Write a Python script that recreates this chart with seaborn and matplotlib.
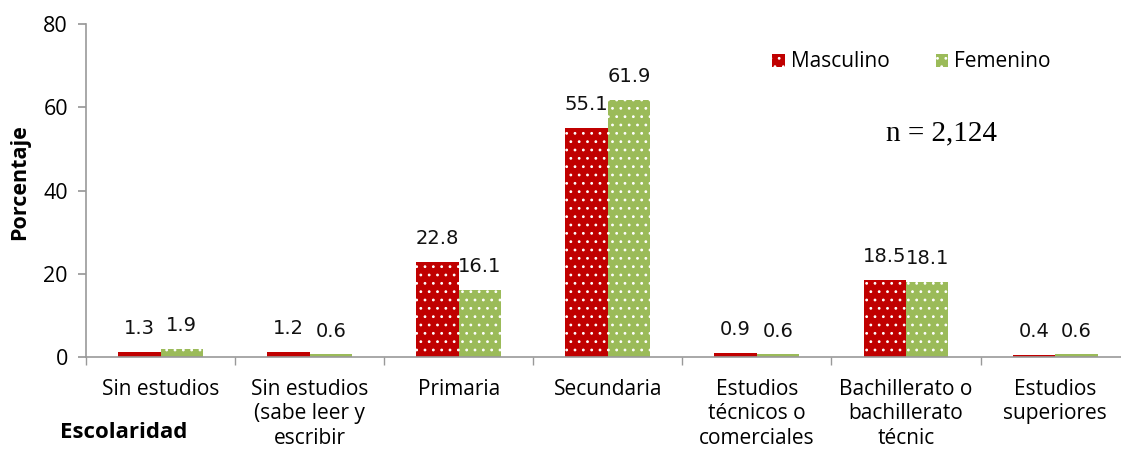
import numpy as np
import pandas as pd
import matplotlib
matplotlib.use("Agg")
import matplotlib.pyplot as plt
import seaborn as sns

categorias = [
    "Sin estudios",
    "Sin estudios\n(sabe leer y\nescribir",
    "Primaria",
    "Secundaria",
    "Estudios\ntécnicos o\ncomerciales",
    "Bachillerato o\nbachillerato\ntécnic",
    "Estudios\nsuperiores",
]
masculino = [1.3, 1.2, 22.8, 55.1, 0.9, 18.5, 0.4]
femenino = [1.9, 0.6, 16.1, 61.9, 0.6, 18.1, 0.6]
sexos = ["Masculino", "Femenino"]
colores = ["#C00000", "#9BBB59"]

df = pd.DataFrame({
    "categoria": categorias * 2,
    "sexo": [sexos[0]] * len(categorias) + [sexos[1]] * len(categorias),
    "valor": masculino + femenino,
})

sns.set_theme(style="white")
plt.rcParams["font.family"] = ["Open Sans", "DejaVu Sans"]
plt.rcParams["hatch.linewidth"] = 0.8
plt.rcParams["text.color"] = "black"
plt.rcParams["xtick.color"] = "black"
plt.rcParams["ytick.color"] = "black"

fig = plt.figure(figsize=(11.21, 4.49), dpi=100)
ax = fig.add_axes([0.0767, 0.205, 0.931, 0.741])

sns.barplot(data=df, x="categoria", y="valor", hue="sexo", order=categorias,
            hue_order=sexos, palette=colores, width=0.57, gap=0,
            saturation=1, ax=ax, legend=True)

# puntos blancos sobre las barras
for p in ax.patches:
    p.set_hatch("..")
    p.set_edgecolor("white")
    p.set_linewidth(0)

for c in ax.containers:
    ax.bar_label(c, fmt="%.1f", padding=10, fontsize=14, color="#111111",
                 family="DejaVu Sans")

ax.set_ylim(0, 80)
ax.set_yticks([0, 20, 40, 60, 80])
ax.set_xlim(-0.5, len(categorias) - 0.5)
ax.set_xlabel("")
ax.set_ylabel("")

for s in ["top", "right"]:
    ax.spines[s].set_visible(False)
for s in ["left", "bottom"]:
    ax.spines[s].set_color("#999999")
    ax.spines[s].set_linewidth(1.2)

ax.tick_params(axis="y", which="major", left=True, length=6, color="#999999",
               labelsize=15.5, pad=7)
ax.tick_params(axis="x", which="major", bottom=False, labelsize=15, pad=10)
ax.set_xticks(np.arange(-0.5, len(categorias)), minor=True)
ax.tick_params(axis="x", which="minor", bottom=True, length=6, color="#999999")

leg = ax.legend(loc="center left", bbox_to_anchor=(0.689, 0.862),
                bbox_transform=fig.transFigure, ncol=2, frameon=False,
                fontsize=15, handlelength=0.6, handleheight=0.6,
                handletextpad=0.3, columnspacing=2.2, borderaxespad=0,
                borderpad=0)
for h in leg.legend_handles:
    h.set_hatch("..")
    h.set_edgecolor("white")
    h.set_linewidth(0)

fig.text(942 / 1121, 1 - 133 / 449, "n = 2,124", ha="center", va="center",
         fontsize=21, family=["Liberation Serif", "DejaVu Serif"])
fig.text(20 / 1121, 1 - 182 / 449, "Porcentaje", rotation=90, ha="center",
         va="center", fontsize=15.5, fontweight="bold")
fig.text(60 / 1121, 1 - 432 / 449, "Escolaridad", ha="left", va="center",
         fontsize=16, fontweight="bold")

fig.savefig("out.png", dpi=100)
